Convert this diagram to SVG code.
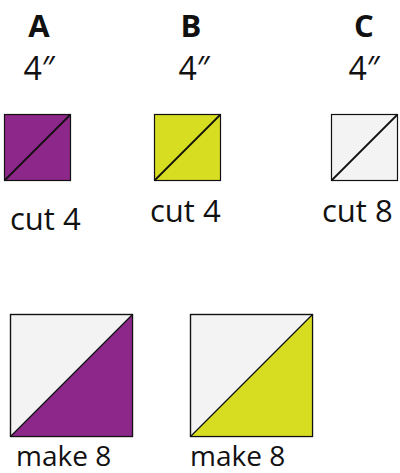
<svg xmlns="http://www.w3.org/2000/svg" width="400" height="473" viewBox="0 0 400 473">
<style>
text{font-family:"Open Sans","Liberation Sans",sans-serif;fill:#111;}
.h{font-weight:bold;font-size:31px;text-anchor:middle;}
.s{font-size:32px;text-anchor:middle;}
.l{font-size:31px;}
.m{font-size:28px;}
.sq{stroke:#111;stroke-width:1.2;}
.d{stroke:#111;stroke-width:1.8;fill:none;}
.p{fill:#8E278A;}
.y{fill:#D7DE21;}
.w{fill:#F2F3F2;}
</style>
<rect width="400" height="473" fill="#fff"/>
<g id="colA">
<text class="h" x="39" y="37">A</text>
<text class="s" x="39" y="80">4″</text>
<rect class="sq p" x="4.5" y="114.5" width="66" height="66"/>
<line class="d" x1="4.5" y1="180.5" x2="70.5" y2="114.5"/>
<text class="l" x="10" y="230">cut 4</text>
</g>
<g id="colB">
<text class="h" x="191" y="37">B</text>
<text class="s" x="194" y="80">4″</text>
<rect class="sq y" x="154.5" y="114.5" width="66" height="66"/>
<line class="d" x1="154.5" y1="180.5" x2="220.5" y2="114.5"/>
<text class="l" x="150" y="222">cut 4</text>
</g>
<g id="colC">
<text class="h" x="364" y="37">C</text>
<text class="s" x="364" y="80">4″</text>
<rect class="sq w" x="331.5" y="114.5" width="66" height="66"/>
<line class="d" x1="331.5" y1="180.5" x2="397.5" y2="114.5"/>
<text class="l" x="322" y="222">cut 8</text>
</g>
<g id="hstA">
<rect class="sq w" x="10.5" y="314.5" width="122" height="122"/>
<polygon class="p" points="10.5,436.5 132.5,314.5 132.5,436.5"/>
<rect class="sq" fill="none" x="10.5" y="314.5" width="122" height="122"/>
<line class="d" x1="10.5" y1="436.5" x2="132.5" y2="314.5" style="stroke-width:1.2"/>
<text class="m" x="16" y="466">make 8</text>
</g>
<g id="hstB">
<rect class="sq w" x="190.5" y="314.5" width="122" height="122"/>
<polygon class="y" points="190.5,436.5 312.5,314.5 312.5,436.5"/>
<rect class="sq" fill="none" x="190.5" y="314.5" width="122" height="122"/>
<line class="d" x1="190.5" y1="436.5" x2="312.5" y2="314.5" style="stroke-width:1.2"/>
<text class="m" x="190" y="466">make 8</text>
</g>
</svg>
